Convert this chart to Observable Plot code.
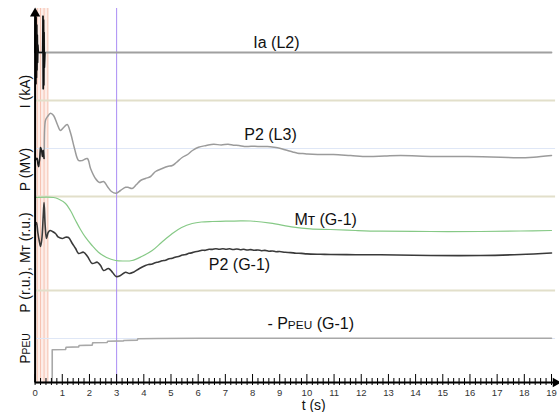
<!DOCTYPE html>
<html><head><meta charset="utf-8">
<script src="https://cdn.jsdelivr.net/npm/d3@7"></script>
<script src="https://cdn.jsdelivr.net/npm/@observablehq/plot@0.6"></script>
<style>body{margin:0;background:#fff;}</style>
</head><body><div id="chart"></div>
<script>
// ---- data (time in s) ----
// Ia (L2), kA
const iaT = [0, 0.02, 0.03, 0.04, 0.05, 0.06, 0.07, 0.08, 0.09, 0.10, 0.12, 0.16, 0.2, 0.28, 0.29, 0.30, 0.31, 0.32, 0.33, 0.34, 0.36, 0.4, 0.5, 19];
const iaV = [1.0, 2.65, -0.25, 2.4, 0.0, 2.1, 0.3, 1.7, 0.6, 1.3, 1.0, 1.0, 1.0, 1.0, 2.45, -0.45, 2.3, -0.3, 1.8, 0.4, 1.0, 1.0, 1.0, 1.0];
// P2 (L3), MW
const l3T = [0, 0.05, 0.08, 0.10, 0.13, 0.17, 0.20, 0.24, 0.27, 0.30, 0.33, 0.38, 0.46, 0.57, 0.68, 0.82, 0.93, 1.05, 1.18, 1.30, 1.45, 1.60, 1.74, 1.92, 2.04, 2.22, 2.37, 2.52, 2.66, 2.81, 2.98, 3.14, 3.33, 3.44, 3.57, 3.73, 3.88, 4.06, 4.25, 4.43, 4.68, 4.87, 5.05, 5.20, 5.41, 5.61, 5.79, 6.01, 6.30, 6.57, 6.85, 7.10, 7.30, 7.50, 7.70, 7.95, 8.20, 8.55, 8.80, 8.92, 9.10, 9.29, 9.48, 9.66, 9.85, 10.03, 10.39, 10.98, 11.61, 12.23, 12.86, 13.45, 14.66, 15.91, 17.13, 17.76, 18.34, 19.0];
const l3V = [172, 176, 176, 166, 160, 176, 198, 192, 180, 192, 176, 252, 260, 266.6, 262, 244, 232, 238, 244, 228, 196, 172, 172, 176, 156, 136, 128, 130, 120, 110, 106.6, 112, 118.6, 118, 116, 124, 132, 136, 140, 150, 156, 160, 162, 168, 178, 184, 192, 198.6, 202, 204.5, 203, 204.5, 202.6, 202, 200, 200.5, 200, 200, 198.5, 197.4, 195, 192, 189, 186.6, 186, 185, 184, 184, 182, 180, 181, 182, 180, 180, 178.6, 177.4, 178.6, 182];
// MT (G-1), r.u.
const mtT = [0, 0.68, 0.86, 1.12, 1.30, 1.49, 1.67, 1.85, 2.08, 2.33, 2.63, 2.96, 3.25, 3.57, 3.92, 4.31, 4.65, 5.05, 5.39, 5.78, 6.12, 6.52, 7.01, 7.56, 7.93, 8.66, 9.51, 10.13, 10.87, 11.79, 12.71, 14.55, 16.39, 17.86, 19];
const mtV = [0.93, 0.93, 0.915, 0.87, 0.80, 0.70, 0.61, 0.533, 0.455, 0.383, 0.33, 0.30, 0.295, 0.30, 0.34, 0.40, 0.48, 0.57, 0.63, 0.67, 0.685, 0.69, 0.693, 0.697, 0.695, 0.673, 0.633, 0.617, 0.61, 0.60, 0.593, 0.59, 0.59, 0.595, 0.60];
// P2 (G-1), r.u.
const g1T = [0, 0.05, 0.10, 0.15, 0.20, 0.25, 0.30, 0.33, 0.37, 0.42, 0.48, 0.55, 0.64, 0.75, 0.86, 1.00, 1.12, 1.23, 1.37, 1.49, 1.60, 1.78, 1.93, 2.10, 2.29, 2.41, 2.52, 2.70, 2.85, 2.98, 3.14, 3.33, 3.47, 3.62, 3.84, 4.06, 4.17, 4.28, 4.42, 4.54, 4.67, 4.80, 4.93, 5.05, 5.18, 5.28, 5.42, 5.54, 5.66, 5.76, 5.89, 6.01, 6.14, 6.27, 6.40, 6.52, 6.65, 6.78, 6.91, 7.03, 7.16, 7.29, 7.42, 7.55, 7.68, 7.81, 7.94, 8.07, 8.20, 8.33, 8.46, 8.60, 8.73, 8.86, 9.00, 9.20, 9.40, 9.60, 9.80, 10.0, 10.5, 10.87, 11.79, 12.71, 14.55, 16.39, 17.86, 19];
const g1V = [0.65, 0.68, 0.58, 0.50, 0.44, 0.52, 0.75, 0.88, 0.65, 0.52, 0.58, 0.60, 0.59, 0.57, 0.533, 0.52, 0.533, 0.53, 0.47, 0.42, 0.37, 0.383, 0.34, 0.27, 0.283, 0.25, 0.20, 0.22, 0.18, 0.14, 0.15, 0.183, 0.17, 0.183, 0.22, 0.25, 0.26, 0.262, 0.278, 0.285, 0.297, 0.303, 0.318, 0.322, 0.336, 0.34, 0.354, 0.36, 0.372, 0.376, 0.388, 0.392, 0.402, 0.402, 0.412, 0.411, 0.418, 0.413, 0.418, 0.412, 0.417, 0.41, 0.415, 0.408, 0.412, 0.405, 0.409, 0.402, 0.405, 0.398, 0.401, 0.393, 0.395, 0.388, 0.39, 0.382, 0.379, 0.373, 0.371, 0.366, 0.362, 0.36, 0.358, 0.357, 0.35, 0.35, 0.36, 0.375];
// - PPEU (G-1), r.u.
const peuT = [0, 0.63, 0.63, 1.12, 1.14, 1.60, 1.62, 2.10, 2.12, 2.65, 2.67, 3.25, 3.27, 3.76, 3.78, 4.5, 6, 10, 19];
const peuV = [0, 0, 0.327, 0.33, 0.353, 0.356, 0.37, 0.374, 0.397, 0.40, 0.413, 0.416, 0.42, 0.424, 0.437, 0.44, 0.442, 0.443, 0.443];

const eventTimes = [0.08, 0.2, 0.33, 0.47];   // switching events
const markerTime = 3;                          // cursor
const majorTicks = d3.range(0, 20);
const minorTicks = d3.range(0, 95).map(i => i / 5).filter(t => t % 1 !== 0);
const yLabels = ["I (kA)", "P (MV)", "P (r.u.), Mт (r.u.)", "PPEU"];
const seriesLabels = ["Ia (L2)", "P2 (L3)", "Mт (G-1)", "P2 (G-1)", "- PPEU (G-1)"];

// ---- layout: stacked panels (offset + gain into a common y) ----
const panel = {
  I:  v => 330 + (v - 1) * 25,
  MW: v => 186 + (v - 100) / 2,
  RU: v => 92 + v * 100,
  PEU: v => v * 100
};
const sep = [282, 186, 92];
const grid = [panel.MW(196), panel.PEU(0.44)];
const yTop = 374, xEnd = 19.15;

const zip = (T, V, f) => T.map((t, i) => ({t, y: f(V[i])}));
const ia = zip(iaT, iaV, panel.I);
const l3 = zip(l3T, l3V, panel.MW);
const mt = zip(mtT, mtV, panel.RU);
const g1 = zip(g1T, g1V, panel.RU);
const peu = zip(peuT, peuV, panel.PEU);

const labelPos = [
  {x: 8.88, y: 340}, {x: 8.66, y: 248}, {x: 10.69, y: 163}, {x: 7.52, y: 118}, {x: 10.14, y: 59}
];
const yLabelPos = [291, 213, 120, 34];

const font = "Liberation Sans, Arial, Helvetica, sans-serif";
const svg = Plot.plot({
  width: 559, height: 412,
  marginLeft: 34.6, marginRight: 8, marginTop: 8, marginBottom: 30,
  x: {domain: [0, 19], axis: null},
  y: {domain: [0, yTop], axis: null},
  style: {fontFamily: font, background: "#fff", overflow: "visible"},
  marks: [
    Plot.rect([0], {x1: 0.07, x2: 0.5, y1: 0, y2: yTop, fill: "#fdeee9"}),
    Plot.ruleX(eventTimes, {y1: 0, y2: yTop, stroke: "#f6c2b1", strokeWidth: 1}),
    Plot.ruleY(grid, {x1: 0, x2: xEnd, stroke: "#dfe7f6", strokeWidth: 1}),
    Plot.ruleY(sep, {x1: 0, x2: xEnd, stroke: "#e2dfca", strokeWidth: 2}),
    Plot.ruleX([markerTime], {y1: 0, y2: yTop, stroke: "#aa8cf4", strokeWidth: 1}),
    // curves
    Plot.line(ia, {x: "t", y: "y", stroke: "#a0a0a0", strokeWidth: 1.8}),
    Plot.line(ia.filter(d => d.t <= 0.38), {x: "t", y: "y", stroke: "#111", strokeWidth: 1.6}),
    Plot.line(l3, {x: "t", y: "y", stroke: "#9b9b9b", strokeWidth: 1.5, curve: "catmull-rom"}),
    Plot.line(l3.filter(d => d.t <= 0.34), {x: "t", y: "y", stroke: "#222", strokeWidth: 1.5}),
    Plot.line(mt, {x: "t", y: "y", stroke: "#86c986", strokeWidth: 1.2, curve: "catmull-rom"}),
    Plot.line(g1, {x: "t", y: "y", stroke: "#3a3a3a", strokeWidth: 1.6, curve: "catmull-rom"}),
    Plot.line(peu, {x: "t", y: "y", stroke: "#a8a8a8", strokeWidth: 1.6}),
    // axes
    Plot.ruleY([0], {x1: 0, x2: xEnd, stroke: "#000", strokeWidth: 2}),
    Plot.ruleX([0], {y1: 0, y2: yTop - 4, stroke: "#000", strokeWidth: 2}),
    Plot.dot([0], {x: xEnd, y: 0, symbol: "triangle", rotate: 90, r: 3.6, fill: "#000", stroke: null}),
    Plot.dot([0], {x: 0, y: yTop - 5, symbol: "triangle", r: 3.8, fill: "#000", stroke: null}),
    Plot.ruleX(majorTicks, {y1: -3, y2: 8, stroke: "#000", strokeWidth: 1}),
    Plot.ruleX(minorTicks, {y1: -3, y2: 4, stroke: "#000", strokeWidth: 1}),
    Plot.text(majorTicks, {x: d => d, y: -10, text: d => String(d), fontSize: 9.5, fill: "#333"}),
    Plot.text(["t (s)"], {x: 10.25, y: -23, text: d => d, fontSize: 14, fill: "#111"}),
    Plot.text(yLabels, {x: -0.36, y: (d, i) => yLabelPos[i], text: d => d, rotate: -90, fontSize: 14, fill: "#111"}),
    Plot.text(seriesLabels, {x: (d, i) => labelPos[i].x, y: (d, i) => labelPos[i].y, text: d => d, fontSize: 16, fill: "#111"})
  ]
});

// small-caps subscript "PEU"
d3.select(svg).selectAll("text").each(function () {
  const s = this.textContent;
  const i = s.indexOf("PPEU");
  if (i < 0 || this.querySelector("tspan")) return;
  const el = d3.select(this);
  el.text(null);
  el.append("tspan").text(s.slice(0, i + 1));
  el.append("tspan").attr("font-size", "0.74em").text("PEU");
  if (s.length > i + 4) el.append("tspan").text(s.slice(i + 4));
});
document.getElementById("chart").append(svg);
</script></body></html>
